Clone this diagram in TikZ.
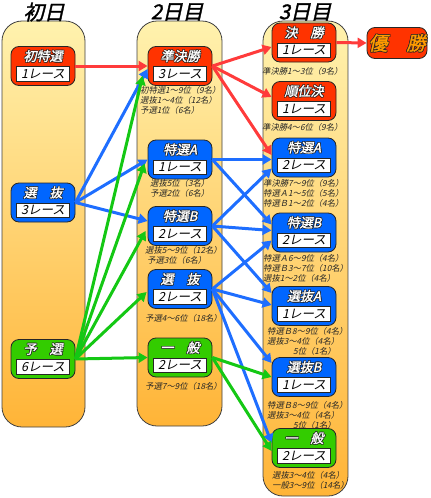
\documentclass[tikz,border=0pt]{standalone}
\usepackage{fontspec}
\newfontfamily\jp{Noto Sans CJK JP}[FakeSlant=0.22]
\newfontfamily\jpb{Noto Sans CJK JP}[FakeSlant=0.22,FakeBold=1.5]
\usetikzlibrary{arrows.meta,calc}
\definecolor{nodeRed}{HTML}{FF3300}
\definecolor{nodeBlue}{HTML}{0066FF}
\definecolor{nodeGreen}{HTML}{33CC00}
\definecolor{arrRed}{HTML}{FF3B3B}
\definecolor{arrBlue}{HTML}{1E6EFF}
\definecolor{arrGreen}{HTML}{14C814}
\definecolor{colTop}{HTML}{FFF2AE}
\definecolor{colBot}{HTML}{FFB437}
\definecolor{winText}{HTML}{FF9A00}
\newcommand\otl[3]{\leavevmode\hbox{%
 \makebox[0pt][l]{\color{#1}\kern0.6pt\raisebox{0.6pt}{#3}}%
 \makebox[0pt][l]{\color{#1}\kern-0.6pt\raisebox{0.6pt}{#3}}%
 \makebox[0pt][l]{\color{#1}\kern0.6pt\raisebox{-0.6pt}{#3}}%
 \makebox[0pt][l]{\color{#1}\kern-0.6pt\raisebox{-0.6pt}{#3}}%
 {\color{#2}#3}}}
\newcommand\race[6]{%
 \node[racebox, fill=#4] (#1) at (#2,#3) {};
 \node[racetitle] (#1t) at ($(#1)+(0,-10)$) {\otl{black!85}{white}{#5}};
 \node[racelabel] (#1r) at ($(#1)+(0,8)$) {#6};
}
\begin{document}
\begin{tikzpicture}[x=1pt,y=-1pt,
 column/.style={draw=black!75, line width=0.8pt, rounded corners=20pt, top color=colTop, bottom color=colBot},
 hdr/.style={font=\jpb\fontsize{20.5}{20.5}\selectfont, inner sep=0},
 racebox/.style={rectangle, rounded corners=8pt, minimum width=64pt, minimum height=39pt, draw=black!85, line width=0.8pt, inner sep=0},
 racetitle/.style={inner sep=0, font=\jpb\fontsize{13}{13}\selectfont},
 racelabel/.style={rectangle, fill=white, draw=black!85, line width=0.6pt, minimum width=53pt, minimum height=14.5pt, inner sep=0, font=\jp\fontsize{12.5}{12.5}\selectfont},
 note/.style={anchor=north west, inner sep=0, align=left, font=\jp\fontsize{8.3}{10}\selectfont, text=black!85},
 arr/.style={line width=3pt, -{Triangle[length=9pt,width=10pt]}},
 redarr/.style={arr, color=arrRed},
 bluearr/.style={arr, color=arrBlue},
 greenarr/.style={arr, color=arrGreen}]
\useasboundingbox (0,0) rectangle (431,498);
% columns
\path[column] (2,21) rectangle (85,427);
\path[column] (137,21) rectangle (222,426);
\path[column] (263,21) rectangle (348,496);
% headers
\node[hdr] (h1) at (44,12) {初日};
\node[hdr] (h2) at (177,12) {2日目};
\node[hdr] (h3) at (305,12) {3日目};
% day 1
\race{A1}{43}{66}{nodeRed}{初特選}{1レース}
\race{B1}{43}{202.5}{nodeBlue}{選　抜}{3レース}
\race{C1}{43}{359}{nodeGreen}{予　選}{6レース}
% day 2
\race{A2}{180}{66}{nodeRed}{準決勝}{3レース}
\race{B2}{180}{159.5}{nodeBlue}{特選A}{1レース}
\race{C2}{180}{226}{nodeBlue}{特選B}{2レース}
\race{D2}{180}{289}{nodeBlue}{選　抜}{2レース}
\race{E2}{180}{357.5}{nodeGreen}{一　般}{2レース}
% day 3
\race{A3}{304}{42.5}{nodeRed}{決　勝}{1レース}
\race{B3}{304}{101}{nodeRed}{順位決}{1レース}
\race{C3}{304}{157.5}{nodeBlue}{特選A}{2レース}
\race{D3}{304}{232.5}{nodeBlue}{特選B}{2レース}
\race{E3}{304}{306}{nodeBlue}{選抜A}{1レース}
\race{F3}{304}{377}{nodeBlue}{選抜B}{1レース}
\race{G3}{304}{448}{nodeGreen}{一　般}{2レース}
% winner
\node[rectangle, rounded corners=8pt, minimum width=60pt, minimum height=31pt, draw=black!85, line width=0.8pt, fill=nodeRed, inner sep=0, font=\jpb\fontsize{19}{19}\selectfont] (W) at (397,43) {\otl{black!85}{winText}{優　勝}};
% notes
\node[note] (nA2) at (140,86) {初特選1～9位（9名）\\選抜1～4位（12名）\\予選1位（6名）};
\node[note] (nB2) at (150,179) {選抜5位（3名）\\予選2位（6名）};
\node[note] (nC2) at (145,246) {選抜5～9位（12名）\\\hspace*{2pt}予選3位（6名）};
\node[note] (nD2) at (145,314) {予選4～6位（18名）};
\node[note] (nE2) at (145,382) {予選7～9位（18名）};
\node[note] (nA3) at (262,67) {準決勝1～3位（9名）};
\node[note] (nB3) at (262,123) {準決勝4～6位（9名）};
\node[note] (nC3) at (263,179) {準決勝7～9位（9名）\\特選Ａ1～5位（5名）\\特選Ｂ1～2位（4名）};
\node[note] (nD3) at (263,254) {特選Ａ6～9位（4名）\\特選Ｂ3～7位（10名）\\選抜1～2位（4名）};
\node[note] (nE3) at (267,327) {特選Ｂ8～9位（4名）\\選抜3～4位（4名）\\\hspace*{26pt}5位（1名）};
\node[note] (nF3) at (267,401) {特選Ｂ8～9位（4名）\\選抜3～4位（4名）\\\hspace*{26pt}5位（1名）};
\node[note] (nG3) at (272,471) {選抜3～4位（4名）\\一般3～9位（14名）};
% red arrows
\draw[redarr] (A1.east) -- (A2.west);
\draw[redarr] (A2.east) -- ($(A3.west)+(0,4.5)$);
\draw[redarr] (A2.east) -- ($(B3.west)+(0,-4)$);
\draw[redarr] (A2.east) -- ($(C3.west)+(0,-2.5)$);
\draw[redarr] (A3.east) -- (W.west);
% day1 blue
\draw[bluearr] (B1.east) -- ($(A2.west)+(0,3)$);
\draw[bluearr] (B1.east) -- (B2.west);
\draw[bluearr] (B1.east) -- ($(C2.west)+(0,-5)$);
% day1 green
\draw[greenarr] (C1.east) -- ($(A2.west)+(-5,10)$);
\draw[greenarr] (C1.east) -- ($(B2.west)+(-3,4)$);
\draw[greenarr] (C1.east) -- ($(C2.west)+(-2,5)$);
\draw[greenarr] (C1.east) -- ($(D2.west)+(-1,3)$);
\draw[greenarr] (C1.east) -- (E2.west);
% day2 blue
\draw[bluearr] (B2.east) -- ($(C3.west)+(0,2)$);
\draw[bluearr] (B2.east) -- ($(D3.west)+(0,-8)$);
\draw[bluearr] (C2.east) -- ($(C3.west)+(0,11)$);
\draw[bluearr] (C2.east) -- ($(D3.west)+(0,-2)$);
\draw[bluearr] (C2.east) -- ($(E3.west)+(0,-13)$);
\draw[bluearr] (D2.east) -- ($(D3.west)+(0,8)$);
\draw[bluearr] (D2.east) -- ($(E3.west)+(0,-1)$);
\draw[bluearr] (D2.east) -- ($(F3.west)+(0,-14)$);
\draw[bluearr] (D2.east) -- ($(G3.west)+(0,-5)$);
% day2 green
\draw[greenarr] (E2.east) -- (F3.west);
\draw[greenarr] (E2.east) -- ($(G3.west)+(0,3)$);
\end{tikzpicture}
\end{document}
